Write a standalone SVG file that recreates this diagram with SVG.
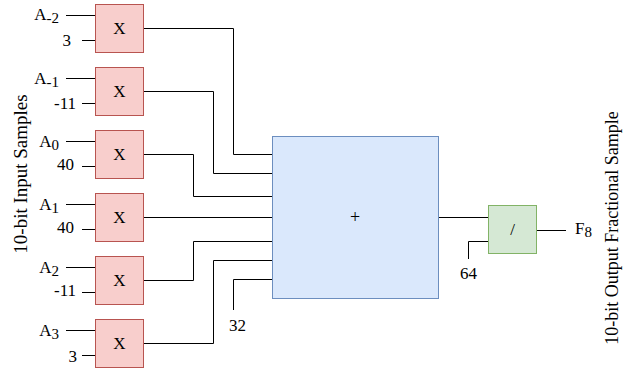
<svg xmlns="http://www.w3.org/2000/svg" width="634" height="374" viewBox="0 0 634 374">
<style>
.mul{fill:#f8cecc;stroke:#b85450;stroke-width:1}
.add{fill:#dae8fc;stroke:#6c8ebf;stroke-width:1}
.div{fill:#d5e8d4;stroke:#82b366;stroke-width:1}
.w{fill:none;stroke:#000;stroke-width:1}
text{font-family:"Liberation Serif","Times New Roman",serif;font-size:17px;fill:#000}
.c{text-anchor:middle}
.e{text-anchor:end}
.sub{font-size:15px}
</style>
<rect width="634" height="374" fill="#fff"/>
<g id="connectors">
<path class="w" d="M66 15.5H95M82 40.5H95"/>
<path class="w" d="M66 78.5H95M82 103.5H95"/>
<path class="w" d="M66 141.5H95M82 166.5H95"/>
<path class="w" d="M66 204.5H95M82 229.5H95"/>
<path class="w" d="M66 267.5H95M82 292.5H95"/>
<path class="w" d="M66 330.5H95M82 355.5H95"/>
<path class="w" d="M143 28.5H233.5V154.5H272"/>
<path class="w" d="M143 91.5H213.5V173.5H272"/>
<path class="w" d="M143 154.5H193.5V196.5H272"/>
<path class="w" d="M143 217.5H272"/>
<path class="w" d="M143 280.5H193.5V241.5H272"/>
<path class="w" d="M143 343.5H213.5V260.5H272"/>
<path class="w" d="M233.5 310V279.5H272"/>
<path class="w" d="M438 217.5H488"/>
<path class="w" d="M468.5 259V241.5H488"/>
<path class="w" d="M537 230.5H566"/>
</g>
<g id="m1"><rect class="mul" x="95.5" y="4.5" width="48" height="48"/><text class="c" x="119.5" y="34">X</text></g>
<g id="m2"><rect class="mul" x="95.5" y="67.5" width="48" height="48"/><text class="c" x="119.5" y="97">X</text></g>
<g id="m3"><rect class="mul" x="95.5" y="130.5" width="48" height="48"/><text class="c" x="119.5" y="160">X</text></g>
<g id="m4"><rect class="mul" x="95.5" y="193.5" width="48" height="48"/><text class="c" x="119.5" y="223">X</text></g>
<g id="m5"><rect class="mul" x="95.5" y="256.5" width="48" height="48"/><text class="c" x="119.5" y="286">X</text></g>
<g id="m6"><rect class="mul" x="95.5" y="319.5" width="48" height="48"/><text class="c" x="119.5" y="349">X</text></g>
<g id="adder"><rect class="add" x="272.5" y="136.5" width="166" height="162"/><text class="c" x="355" y="223" style="font-size:18px">+</text></g>
<g id="divider"><rect class="div" x="488.5" y="205.5" width="48" height="48"/><text class="c" x="512.5" y="235">/</text></g>
<g id="labels">
<text class="e" x="59" y="20">A<tspan class="sub" dy="3">-2</tspan></text>
<text class="e" x="71" y="46">3</text>
<text class="e" x="59" y="84">A<tspan class="sub" dy="3">-1</tspan></text>
<text class="e" x="76" y="109">-11</text>
<text class="e" x="59" y="147">A<tspan class="sub" dy="3">0</tspan></text>
<text class="e" x="74" y="170">40</text>
<text class="e" x="59" y="210">A<tspan class="sub" dy="3">1</tspan></text>
<text class="e" x="74" y="233">40</text>
<text class="e" x="59" y="273">A<tspan class="sub" dy="3">2</tspan></text>
<text class="e" x="76" y="296">-11</text>
<text class="e" x="59" y="336">A<tspan class="sub" dy="3">3</tspan></text>
<text class="e" x="77" y="362">3</text>
<text class="c" x="237.5" y="331">32</text>
<text class="c" x="468.5" y="279">64</text>
<text x="575" y="234">F<tspan class="sub" dy="3">8</tspan></text>
<text class="c" transform="translate(27 174) rotate(-90)" style="font-size:19px">10-bit Input Samples</text>
<text class="c" transform="translate(618 228) rotate(-90)" style="font-size:18px">10-bit Output Fractional Sample</text>
</g>
</svg>
